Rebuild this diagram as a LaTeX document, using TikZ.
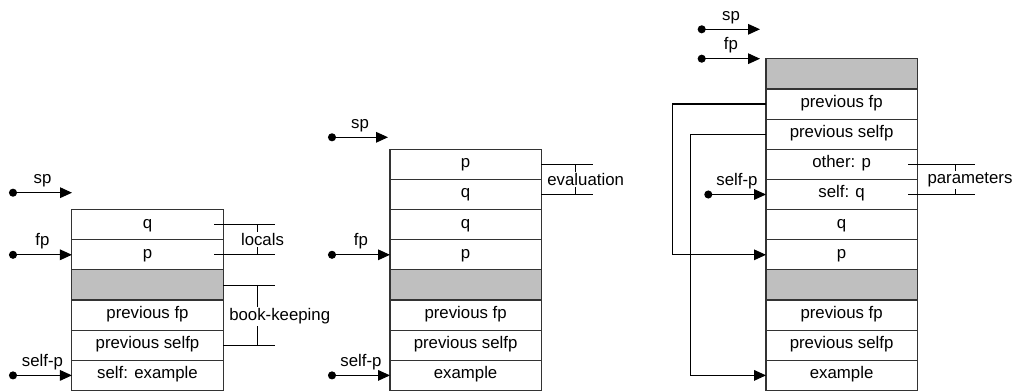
\documentclass[tikz,border=0pt]{standalone}
\usepackage{fontspec}
\setmainfont{Liberation Sans}
\usetikzlibrary{arrows.meta,calc}
\begin{document}
\begin{tikzpicture}[x=0.75pt,y=-0.75pt,
  every node/.style={font=\fontsize{12.6}{15}\selectfont},
  cell/.style={draw=black!80, line width=0.8pt, minimum width=113.4pt, minimum height=22.61pt,
    inner sep=0pt, outer sep=0pt, text height=0.72em, text depth=0.21em},
  blank/.style={cell, fill=black!25},
  ptr/.style={line width=0.8pt, {Circle[length=6pt]}-{Triangle[length=9pt,width=8pt]}},
  link/.style={line width=0.8pt, -{Triangle[length=9pt,width=8pt]}},
  brk/.style={line width=0.6pt},
  lbl/.style={anchor=base, inner sep=0pt},
  tag/.style={fill=white, inner sep=1pt}
]
\useasboundingbox (0,0) rectangle (1015,391);

% ---------- stack 1 ----------
\node[cell]  (a1) at (147.5,224.7) {q};
\node[cell]  (a2) at (147.5,254.8) {p};
\node[blank] (a3) at (147.5,285.0) {};
\node[cell]  (a4) at (147.5,315.1) {previous fp};
\node[cell]  (a5) at (147.5,345.3) {previous selfp};
\node[cell]  (a6) at (147.5,375.4) {self: example};

\coordinate (s1sp) at (9,192.7);
\coordinate (s1spt) at (72,192.7);
\coordinate (s1fp) at (9,254.8);
\coordinate (s1se) at (9,375.4);
\draw[ptr] (s1sp) -- (s1spt);
\draw[ptr] (s1fp) -- (a2.west);
\draw[ptr] (s1se) -- (a6.west);
\node[lbl] (l1sp) at (42.5,183.7) {sp};
\node[lbl] (l1fp) at (42.5,245.8) {fp};
\node[lbl] (l1se) at (42.5,366.4) {self-p};

\draw[brk] ($(a1.east)+(-9,0)$) -- ++(61,0);
\draw[brk] ($(a2.east)+(-9,0)$) -- ++(61,0);
\draw[brk] ($(a1.east)+(34,0)$) -- ($(a2.east)+(34,0)$);
\node[tag] (locals) at (262.5,239.7) {locals};
\draw[brk] (a3.east) -- ++(52,0);
\draw[brk] (a5.east) -- ++(52,0);
\draw[brk] ($(a3.east)+(34,0)$) -- ($(a5.east)+(34,0)$);
\node[tag] (bk) at (279.7,316.5) {book-keeping};

% ---------- stack 2 ----------
\node[cell]  (b1) at (465.6,164.4) {p};
\node[cell]  (b2) at (465.6,194.6) {q};
\node[cell]  (b3) at (465.6,224.7) {q};
\node[cell]  (b4) at (465.6,254.8) {p};
\node[blank] (b5) at (465.6,285.0) {};
\node[cell]  (b6) at (465.6,315.1) {previous fp};
\node[cell]  (b7) at (465.6,345.3) {previous selfp};
\node[cell]  (b8) at (465.6,375.4) {example};

\coordinate (s2sp) at (328,137.3);
\coordinate (s2spt) at (388,137.3);
\coordinate (s2fp) at (328,254.8);
\coordinate (s2se) at (328,375.4);
\draw[ptr] (s2sp) -- (s2spt);
\draw[ptr] (s2fp) -- (b4.west);
\draw[ptr] (s2se) -- (b8.west);
\node[lbl] (l2sp) at (360,128.3) {sp};
\node[lbl] (l2fp) at (361,245.8) {fp};
\node[lbl] (l2se) at (361,366.4) {self-p};

\draw[brk] (b1.east) -- ++(52,0);
\draw[brk] (b2.east) -- ++(52,0);
\draw[brk] ($(b1.east)+(34.4,0)$) -- ($(b2.east)+(34.4,0)$);
\node[tag] (evaluation) at (585.7,179.5) {evaluation};

% ---------- stack 3 ----------
\node[blank] (c1)  at (841.6,73.9)  {};
\node[cell]  (c2)  at (841.6,104.0) {previous fp};
\node[cell]  (c3)  at (841.6,134.2) {previous selfp};
\node[cell]  (c4)  at (841.6,164.4) {other: p};
\node[cell]  (c5)  at (841.6,194.5) {self: q};
\node[cell]  (c6)  at (841.6,224.7) {q};
\node[cell]  (c7)  at (841.6,254.8) {p};
\node[blank] (c8)  at (841.6,285.0) {};
\node[cell]  (c9)  at (841.6,315.1) {previous fp};
\node[cell]  (c10) at (841.6,345.3) {previous selfp};
\node[cell]  (c11) at (841.6,375.4) {example};

\coordinate (s3sp) at (697.7,29.3);
\coordinate (s3spt) at (760,29.3);
\coordinate (s3fp) at (697.7,58.7);
\coordinate (s3fpt) at (760,58.7);
\coordinate (s3se) at (704.3,194.5);
\draw[ptr] (s3sp) -- (s3spt);
\draw[ptr] (s3fp) -- (s3fpt);
\draw[ptr] (s3se) -- (c5.west);
\node[lbl] (l3sp) at (731,20.3) {sp};
\node[lbl] (l3fp) at (731,49.7) {fp};
\node[lbl] (l3se) at (737,185.5) {self-p};

\draw[link] (c2.west) -- ++(-93.3,0) |- (c7.west);
\draw[link] (c3.west) -- ++(-75.3,0) |- (c11.west);

\draw[brk] ($(c4.east)+(-9,0)$) -- ++(67,0);
\draw[brk] ($(c5.east)+(-9,0)$) -- ++(67,0);
\draw[brk] ($(c4.east)+(37.7,0)$) -- ($(c5.east)+(37.7,0)$);
\node[tag] (parameters) at (970,180) {parameters};
\end{tikzpicture}
\end{document}
